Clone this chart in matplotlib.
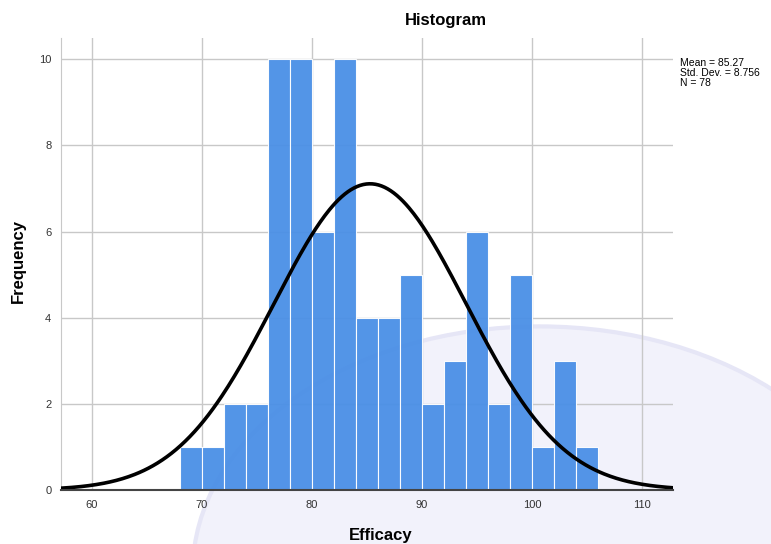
import numpy as np
import matplotlib
matplotlib.use("Agg")
import matplotlib.pyplot as plt
from matplotlib.patches import Circle

# Histogram of Efficacy scores (bin width 2)
bin_edges = [68, 70, 72, 74, 76, 78, 80, 82, 84, 86, 88, 90, 92, 94, 96, 98,
             100, 102, 104, 106]
counts = [1, 1, 2, 2, 10, 10, 6, 10, 4, 4, 5, 2, 3, 6, 2, 5, 1, 3, 1]
mean = 85.27
std_dev = 8.756
n_obs = 78
x_ticks = [60, 70, 80, 90, 100, 110]
y_ticks = [0, 2, 4, 6, 8, 10]

plt.rcParams['font.family'] = ['Liberation Sans', 'DejaVu Sans']

fig = plt.figure(figsize=(7.71, 5.44), dpi=100)
fig.patch.set_facecolor("white")

# faint background seal
seal = Circle((0.70, -0.05), 0.45, transform=fig.transFigure,
              facecolor="#f2f2fb", edgecolor="#e6e6f6", lw=3, zorder=-10)
fig.patches.append(seal)

ax = fig.add_axes([0.0791, 0.0993, 0.7939, 0.8307])
ax.set_facecolor("none")

widths = np.diff(bin_edges)
ax.bar(bin_edges[:-1], counts, width=widths, align="edge",
       color="#4a8fe6", edgecolor="white", linewidth=0.8, alpha=0.95, zorder=2)

# fitted normal curve scaled to counts
xs = np.linspace(57.2, 112.8, 400)
bw = widths[0]
ys = n_obs * bw / (std_dev * np.sqrt(2 * np.pi)) * np.exp(-0.5 * ((xs - mean) / std_dev) ** 2)
ax.plot(xs, ys, color="black", lw=2.6, zorder=3)

ax.set_xlim(57.2, 112.8)
ax.set_ylim(0, 10.49)
ax.set_xticks(x_ticks)
ax.set_yticks(y_ticks)
ax.grid(True, color="#c8c8c8", lw=1.0, zorder=0)
ax.set_axisbelow(True)
ax.tick_params(length=0, labelsize=8, colors="#333333", pad=7)

for side in ("top", "right"):
    ax.spines[side].set_visible(False)
ax.spines["left"].set_color("#c8c8c8")
ax.spines["bottom"].set_color("#444444")
ax.spines["bottom"].set_linewidth(1.5)
ax.spines["bottom"].set_zorder(4)

fig.text(0.578, 0.962, "Histogram", ha="center", va="center",
         fontsize=12, fontweight="bold")
fig.text(0.4935, 0.016, "Efficacy", ha="center", va="center",
         fontsize=12, fontweight="bold")
fig.text(0.024, 0.52, "Frequency", ha="center", va="center",
         fontsize=12, fontweight="bold", rotation=90)

fig.text(0.882, 0.893,
         f"Mean = {mean}\nStd. Dev. = {std_dev}\nN = {n_obs}",
         ha="left", va="top", fontsize=7.5, linespacing=0.98)

fig.savefig("out.png", dpi=100)
